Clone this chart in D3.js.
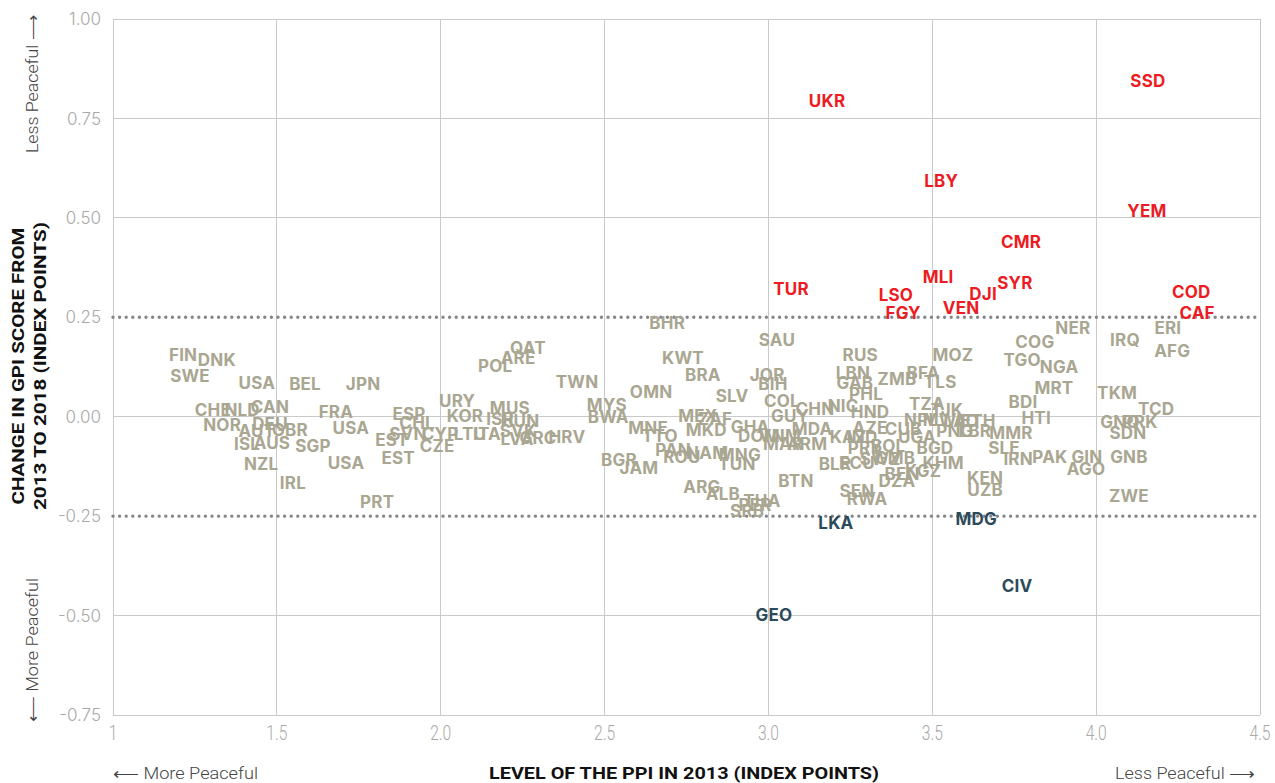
<!DOCTYPE html>
<html><head><meta charset="utf-8">
<script src="https://cdn.jsdelivr.net/npm/d3@7"></script>
<style>body{margin:0;background:#fff}</style>
</head><body><svg id="c" width="1275" height="783"></svg>
<script>
// ---- DATA ----
const codes = [
 "SSD","UKR","LBY","YEM","CMR","MLI","SYR","TUR","DJI","COD","LSO","VEN","FGY","CAF",
 "LKA","MDG","CIV","GEO",
 "FIN","DNK","SWE","USA","BEL","JPN","CHE","NLD","CAN","FRA","NOR","DEU","AUT","GBR","ISL","AUS","SGP","USA","NZL","USA","IRL","PRT",
 "ESP","CHL","SVN","EST","CYP","CZE","EST","URY","KOR","LTU","ITA","MUS","ISR","HUN","SVK","LVA","GRC","HRV","QAT","ARE","POL","TWN",
 "MYS","BWA","BHR","SAU","KWT","BRA","JOR","BIH","OMN","SLV","COL","GUY","CHN","MEX","ZAF","MNE","TTO","MKD","GHA","DOM","VNM","MDA",
 "MAR","ARM","IND","KAZ","PAN","ROU","NAM","MNG","TUN","BGR","JAM","BTN","ARG","ALB","THA","PER","SRB",
 "RUS","MOZ","LBN","GAB","ZMB","BFA","TLS","PHL","NIC","HND","TZA","TJK","NPL","MWI","LAO","ETH","PNG","LBR","AZE","CUB","UGA",
 "PRY","BOL","BGD","BLR","ECU","SWZ","GMB","KHM","BEN","KGZ","DZA","SEN","RWA",
 "NER","COG","IRQ","ERI","AFG","TGO","NGA","MRT","TKM","BDI","TCD","HTI","GNQ","PRK","SDN","MMR","SLE","IRN","PAK","GIN","GNB","AGO","KEN","UZB","ZWE"
];
const ppi2013 = [
 4.158,3.179,3.527,4.155,3.771,3.518,3.752,3.069,3.655,4.290,3.389,3.588,3.411,4.308,
 3.206,3.634,3.759,3.017,
 1.214,1.317,1.235,1.439,1.586,1.763,1.305,1.394,1.479,1.680,1.333,1.479,1.439,1.540,1.409,1.485,1.610,1.726,1.452,1.711,1.549,1.806,
 1.903,1.928,1.900,1.851,1.998,1.989,1.870,2.050,2.074,2.089,2.141,2.211,2.181,2.242,2.236,2.233,2.297,2.385,2.266,2.236,2.166,2.416,
 2.507,2.511,2.691,3.026,2.739,2.800,2.996,3.014,2.642,2.889,3.041,3.066,3.142,2.785,2.837,2.633,2.669,2.810,2.944,2.971,3.035,3.133,
 3.045,3.118,3.286,3.243,2.709,2.736,2.813,2.913,2.904,2.544,2.605,3.084,2.797,2.861,2.980,2.959,2.935,
 3.280,3.563,3.258,3.264,3.392,3.472,3.524,3.298,3.228,3.310,3.484,3.545,3.466,3.530,3.588,3.640,3.569,3.630,3.310,3.411,3.453,
 3.295,3.365,3.508,3.203,3.270,3.341,3.386,3.533,3.408,3.472,3.392,3.270,3.301,
 3.929,3.813,4.088,4.219,4.232,3.774,3.887,3.871,4.064,3.777,4.183,3.817,4.073,4.134,4.097,3.740,3.719,3.762,3.859,3.972,4.100,3.969,3.661,3.661,4.100
];
const gpiChange = [
 0.845,0.795,0.594,0.518,0.440,0.352,0.337,0.322,0.309,0.314,0.307,0.274,0.262,0.262,
 -0.267,-0.257,-0.425,-0.498,
 0.156,0.143,0.103,0.086,0.083,0.083,0.018,0.018,0.025,0.013,-0.020,-0.018,-0.035,-0.033,-0.068,-0.065,-0.073,-0.028,-0.118,-0.116,-0.166,-0.214,
 0.008,-0.015,-0.043,-0.058,-0.043,-0.073,-0.103,0.040,0.003,-0.043,-0.043,0.023,-0.005,-0.010,-0.035,-0.055,-0.053,-0.050,0.174,0.148,0.128,0.088,
 0.030,0.000,0.236,0.194,0.148,0.106,0.106,0.083,0.063,0.053,0.040,0.003,0.020,0.003,-0.005,-0.028,-0.048,-0.033,-0.025,-0.048,-0.048,-0.030,
 -0.068,-0.068,-0.050,-0.050,-0.083,-0.101,-0.091,-0.096,-0.118,-0.108,-0.128,-0.161,-0.176,-0.194,-0.211,-0.221,-0.236,
 0.156,0.156,0.111,0.086,0.096,0.111,0.088,0.058,0.028,0.013,0.033,0.018,-0.008,-0.008,-0.010,-0.010,-0.035,-0.035,-0.028,-0.030,-0.050,
 -0.078,-0.073,-0.078,-0.118,-0.116,-0.106,-0.103,-0.116,-0.143,-0.136,-0.161,-0.186,-0.206,
 0.224,0.189,0.194,0.224,0.166,0.143,0.126,0.073,0.060,0.038,0.020,-0.003,-0.013,-0.013,-0.040,-0.040,-0.078,-0.106,-0.101,-0.101,-0.101,-0.131,-0.153,-0.184,-0.199
];
const xTicks = [1, 1.5, 2, 2.5, 3, 3.5, 4, 4.5];
const xTickLabels = ["1", "1.5", "2.0", "2.5", "3.0", "3.5", "4.0", "4.5"];
const yTicks = [1, 0.75, 0.5, 0.25, 0, -0.25, -0.5, -0.75];
const yTickLabels = ["1.00", "0.75", "0.50", "0.25", "0.00", "-0.25", "-0.50", "-0.75"];
const bandLimits = [0.25, -0.25];

// ---- CHART ----
const svg = d3.select("#c");
const x = d3.scaleLinear().domain([1, 4.5]).range([113, 1260]);
const y = d3.scaleLinear().domain([-0.75, 1]).range([715, 19]);
const GRID = "#c9c9c9", GREY = "#a9a692", RED = "#ed1c24", DARK = "#2c4a5a";

// grid verticals
svg.append("g").selectAll("line").data(xTicks).join("line")
  .attr("x1", d => x(d)).attr("x2", d => x(d))
  .attr("y1", y(1)).attr("y2", y(-0.75))
  .attr("stroke", GRID).attr("stroke-width", 1).attr("shape-rendering", "crispEdges");
// grid horizontals
svg.append("g").selectAll("line").data(yTicks.filter(t => !bandLimits.includes(t))).join("line")
  .attr("x1", x(1)).attr("x2", x(4.5))
  .attr("y1", d => y(d)).attr("y2", d => y(d))
  .attr("stroke", GRID).attr("stroke-width", 1).attr("shape-rendering", "crispEdges");
// dotted threshold lines
svg.append("g").selectAll("line").data(bandLimits).join("line")
  .attr("x1", x(1)).attr("x2", x(4.5))
  .attr("y1", d => y(d)).attr("y2", d => y(d))
  .attr("stroke", "#85868a").attr("stroke-width", 3.4)
  .attr("stroke-linecap", "round").attr("stroke-dasharray", "0 6.6");

// y tick labels
svg.append("g").selectAll("text").data(yTicks).join("text")
  .attr("x", 101).attr("y", d => y(d)).attr("dy", "0.36em")
  .attr("text-anchor", "end")
  .style("font", "300 17px Inter, 'Noto Sans', sans-serif").attr("fill", "#a9a9a9")
  .text((d, i) => yTickLabels[i]);
// x tick labels (condensed)
svg.append("g").selectAll("text").data(xTicks).join("text")
  .attr("transform", d => `translate(${x(d)},${740}) scale(0.78,1)`)
  .attr("text-anchor", "middle")
  .style("font", "300 20px Roboto, sans-serif").attr("fill", "#a9a9a9")
  .text((d, i) => xTickLabels[i]);

// axis titles
function condensed(txt, tx, ty, rot, len, font, fill, anchor) {
  svg.append("text")
    .attr("transform", `translate(${tx},${ty}) rotate(${rot})`)
    .attr("text-anchor", anchor || "middle")
    .attr("textLength", len).attr("lengthAdjust", "spacingAndGlyphs")
    .style("font", font).attr("fill", fill).text(txt);
}
const titleFont = "700 17px Roboto, sans-serif";
const sideFont = "300 16px Roboto, 'DejaVu Sans', sans-serif";
condensed("LEVEL OF THE PPI IN 2013 (INDEX POINTS)", 684, 779, 0, 390, titleFont, "#111");
condensed("CHANGE IN GPI SCORE FROM", 24, 366, -90, 277, titleFont, "#111");
condensed("2013 TO 2018 (INDEX POINTS)", 46, 366, -90, 288, titleFont, "#111");
condensed("\u27f5 More Peaceful", 113, 779, 0, 145, sideFont, "#444", "start");
condensed("Less Peaceful \u27f6", 1255, 779, 0, 140, sideFont, "#444", "end");
condensed("Less Peaceful \u27f6", 38, 84, -90, 138, sideFont, "#444");
condensed("\u27f5 More Peaceful", 38, 650, -90, 144, sideFont, "#444");

// country labels
const idx = d3.range(codes.length);
svg.append("g").selectAll("text").data(idx).join("text")
  .attr("x", i => x(ppi2013[i]))
  .attr("y", i => y(gpiChange[i]))
  .attr("dy", "0.36em")
  .attr("text-anchor", "middle")
  .style("font", "700 17px Inter, Roboto, sans-serif")
  .style("letter-spacing", "0.2px")
  .attr("fill", i => gpiChange[i] > bandLimits[0] ? RED : (gpiChange[i] < bandLimits[1] ? DARK : GREY))
  .text(i => codes[i]);
</script>
</body></html>
